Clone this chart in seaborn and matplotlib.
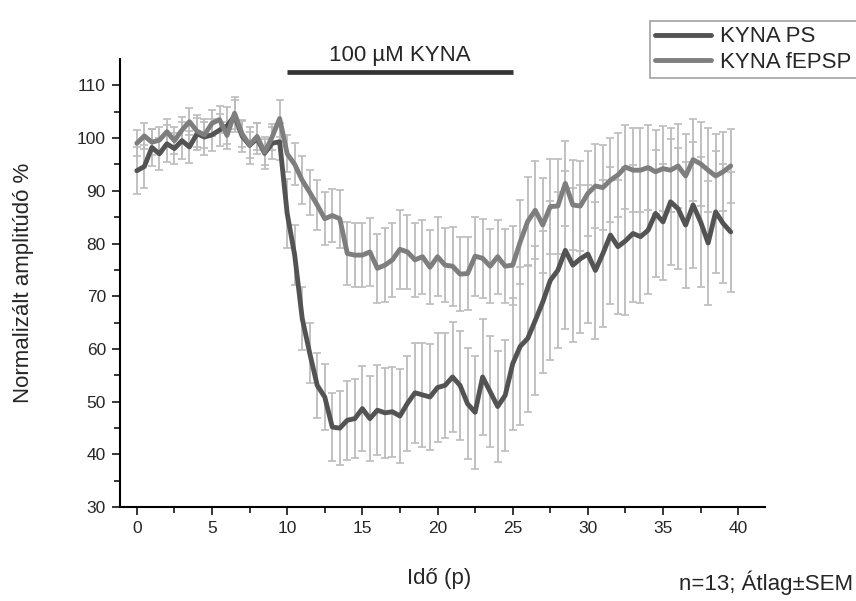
import numpy as np
import pandas as pd
import matplotlib
matplotlib.use("Agg")
import matplotlib.pyplot as plt
import matplotlib.transforms as mtransforms
import seaborn as sns

# --- Data ---
time_min = [
    0.0, 0.5, 1.0, 1.5, 2.0, 2.5, 3.0, 3.5, 4.0, 4.5,
    5.0, 5.5, 6.0, 6.5, 7.0, 7.5, 8.0, 8.5, 9.0, 9.5,
    10.0, 10.5, 11.0, 11.5, 12.0, 12.5, 13.0, 13.5, 14.0, 14.5,
    15.0, 15.5, 16.0, 16.5, 17.0, 17.5, 18.0, 18.5, 19.0, 19.5,
    20.0, 20.5, 21.0, 21.5, 22.0, 22.5, 23.0, 23.5, 24.0, 24.5,
    25.0, 25.5, 26.0, 26.5, 27.0, 27.5, 28.0, 28.5, 29.0, 29.5,
    30.0, 30.5, 31.0, 31.5, 32.0, 32.5, 33.0, 33.5, 34.0, 34.5,
    35.0, 35.5, 36.0, 36.5, 37.0, 37.5, 38.0, 38.5, 39.0, 39.5,
]

ps_mean = [
    93.8, 94.6, 98.2, 97.0, 98.9, 98.0, 99.5, 98.3, 100.8, 100.2,
    100.6, 101.5, 102.3, 104.2, 100.4, 98.6, 99.9, 97.1, 99.0, 99.3,
    85.7, 77.8, 65.8, 59.2, 53.1, 50.9, 45.2, 45.0, 46.5, 46.8,
    48.7, 46.8, 48.4, 47.9, 48.1, 47.3, 49.7, 51.7, 51.3, 50.9,
    52.7, 53.1, 54.7, 53.1, 49.6, 48.0, 54.7, 51.9, 49.1, 51.2,
    57.2, 60.5, 62.0, 65.4, 68.9, 73.0, 74.9, 78.7, 75.9, 77.1,
    78.0, 74.9, 78.1, 81.6, 79.4, 80.5, 81.9, 81.3, 82.5, 85.7,
    84.1, 87.9, 86.6, 83.5, 87.3, 84.1, 80.1, 86.0, 83.8, 82.2,
]
ps_sem = [
    4.5, 4.0, 3.5, 3.0, 3.5, 3.0, 3.5, 3.0, 3.0, 3.5,
    3.0, 3.0, 3.5, 3.0, 3.0, 3.5, 3.0, 3.0, 3.0, 3.5,
    6.6, 5.7, 6.0, 5.7, 6.2, 6.3, 6.5, 7.0, 7.5, 7.5,
    8.0, 8.0, 8.5, 8.5, 8.5, 9.0, 9.0, 9.5, 9.8, 10.0,
    10.3, 10.0, 10.5, 10.4, 10.5, 10.7, 11.0, 10.5, 10.5, 10.5,
    12.5, 15.0, 14.0, 14.2, 13.5, 15.0, 14.8, 15.0, 14.6, 14.0,
    13.0, 13.0, 14.0, 13.0, 12.7, 14.0, 13.0, 12.5, 12.0, 12.0,
    11.0, 12.0, 11.5, 12.0, 12.0, 12.3, 11.8, 11.6, 11.3, 11.4,
]

fepsp_mean = [
    99.0, 100.4, 99.2, 99.6, 101.2, 99.5, 101.5, 103.1, 101.3, 100.6,
    102.8, 103.5, 100.5, 104.7, 100.8, 98.7, 100.3, 97.3, 100.2, 103.7,
    97.0, 95.0, 92.0, 89.7, 87.3, 84.7, 85.3, 84.7, 78.1, 77.8,
    77.8, 78.4, 75.3, 75.9, 76.9, 78.9, 78.4, 76.9, 77.5, 75.5,
    77.5, 75.9, 75.7, 74.2, 74.3, 77.6, 77.2, 75.7, 77.5, 75.7,
    75.9, 80.3, 84.2, 86.3, 83.5, 87.0, 87.1, 91.4, 87.3, 87.1,
    89.5, 90.9, 90.6, 92.0, 93.0, 94.5, 93.9, 93.9, 94.4, 93.6,
    94.2, 93.9, 94.7, 92.8, 95.9, 95.1, 93.9, 92.8, 93.6, 94.7,
]
fepsp_sem = [
    2.5, 2.5, 2.5, 2.5, 2.5, 2.5, 2.5, 2.5, 3.0, 2.5,
    2.5, 2.5, 2.5, 3.0, 2.5, 2.5, 2.5, 2.5, 2.5, 3.5,
    3.5, 4.0, 4.5, 4.3, 4.8, 5.0, 5.0, 5.5, 6.0, 6.0,
    6.0, 6.5, 6.5, 7.0, 7.0, 7.5, 7.0, 7.0, 7.0, 7.0,
    7.5, 7.0, 7.5, 7.0, 7.0, 7.5, 7.5, 7.0, 7.0, 7.0,
    7.5, 8.0, 8.5, 9.3, 9.0, 9.0, 9.0, 8.0, 8.5, 8.5,
    8.0, 8.0, 8.0, 8.0, 8.0, 8.0, 8.0, 8.0, 8.0, 8.0,
    8.0, 8.0, 8.0, 8.0, 7.8, 8.0, 8.0, 8.0, 7.5, 7.0,
]

series_names = ["KYNA PS", "KYNA fEPSP"]
kyna_window = [10, 25]  # drug application (min)

# --- Styling ---
COLORS = {"KYNA PS": "#535353", "KYNA fEPSP": "#7e7e7e"}
ERR_COLOR = "#bcbcbc"
LINE_W = 3.5

sns.set_style("ticks")
plt.rcParams['font.family'] = ['Liberation Sans', 'DejaVu Sans']

df = pd.DataFrame({
    "time": time_min * 2,
    "value": ps_mean + fepsp_mean,
    "series": [series_names[0]] * len(time_min) + [series_names[1]] * len(time_min),
})

fig = plt.figure(figsize=(8.56, 6.01), dpi=100)
ax = fig.add_axes([0.140, 0.156, 0.754, 0.746])

# error bars underneath
for mean, sem in [(ps_mean, ps_sem), (fepsp_mean, fepsp_sem)]:
    ax.errorbar(time_min, mean, yerr=sem, fmt='none', ecolor=ERR_COLOR,
                elinewidth=1.3, capsize=3, capthick=1.2, zorder=1)

sns.lineplot(data=df, x="time", y="value", hue="series", hue_order=series_names,
             palette=COLORS, linewidth=LINE_W, ax=ax, zorder=3)

# drug bar + label
trans = mtransforms.blended_transform_factory(ax.transData, ax.transAxes)
ax.plot(kyna_window, [0.971, 0.971], color="#333333", lw=3.4,
        transform=trans, clip_on=False, solid_capstyle='butt')
ax.text(np.mean(kyna_window), 0.985, "100 \u00b5M KYNA", transform=trans,
        ha='center', va='bottom', fontsize=16)

ax.set_xlim(-1.13, 41.8)
ax.set_ylim(30, 115)
ax.set_xticks(range(0, 41, 5))
ax.set_xticks(np.arange(2.5, 40, 5), minor=True)
ax.set_yticks(range(30, 111, 10))
ax.set_yticks(range(35, 115, 10), minor=True)
ax.tick_params(axis='both', which='major', length=6, width=1.3, labelsize=12.5,
               direction='out', pad=4)
ax.tick_params(axis='both', which='minor', length=4, width=1.3, direction='out')
for side in ['top', 'right']:
    ax.spines[side].set_visible(False)
for side in ['left', 'bottom']:
    ax.spines[side].set_linewidth(1.5)
    ax.spines[side].set_color('black')

ax.set_xlabel("Id\u0151 (p)", fontsize=16)
ax.set_ylabel("Normaliz\u00e1lt amplit\u00fad\u00f3 %", fontsize=16)
ax.xaxis.set_label_coords(0.495, -0.135)
ax.yaxis.set_label_coords(-0.133, 0.5)

handles, labels = ax.get_legend_handles_labels()
ax.legend(handles, labels, loc='upper left', bbox_to_anchor=(0.746, 0.984),
          bbox_transform=fig.transFigure, fontsize=16, frameon=True,
          fancybox=False, edgecolor='#8a8a8a', handlelength=2.5,
          handletextpad=0.4, labelspacing=0.2, borderpad=0.25)
for line in ax.get_legend().get_lines():
    line.set_linewidth(LINE_W)
ax.get_legend().get_frame().set_linewidth(1.2)

fig.text(0.997, 0.030, "n=13; \u00c1tlag\u00b1SEM", ha='right', va='center', fontsize=16)

fig.savefig("out.png", dpi=100)
